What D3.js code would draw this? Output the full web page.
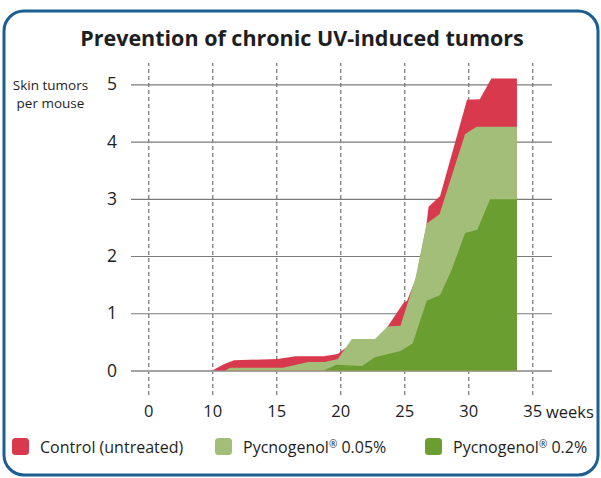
<!DOCTYPE html>
<html>
<head>
<meta charset="utf-8">
<script src="https://cdn.jsdelivr.net/npm/d3@7"></script>
<style>
  body { margin: 0; background: #fff; }
  svg text { font-family: "Open Sans", sans-serif; fill: #1e1e1e; }
</style>
</head>
<body>
<div class="chart"></div>
<script>
// weeks on the x axis (the "0" label sits where week 5 would be)
const xTickValues = [5, 10, 15, 20, 25, 30, 35]
const xTickLabels = ["0", "10", "15", "20", "25", "30", "35"]
const yTickValues = [0, 1, 2, 3, 4, 5]

// Control (untreated)
const controlWeeks  = [10, 10.9, 11.7, 15.1, 16.5, 18.7, 19.8, 20.5, 22.7, 23.7, 25.0, 25.2, 25.9, 26.7, 26.9, 27.8, 29.9, 30.9, 31.8, 33.8]
const controlValues = [0, 0.11, 0.18, 0.20, 0.25, 0.25, 0.29, 0.41, 0.5, 0.77, 1.20, 1.21, 1.6, 2.5, 2.86, 3.05, 4.73, 4.74, 5.10, 5.10]

// Pycnogenol 0.05%
const lowWeeks  = [11.0, 11.4, 15.5, 17.5, 18.8, 19.8, 20.9, 22.7, 23.7, 24.7, 25.3, 25.9, 26.75, 27.75, 29.75, 30.65, 33.8]
const lowValues = [0, 0.05, 0.05, 0.15, 0.15, 0.2, 0.55, 0.55, 0.77, 0.78, 1.2, 1.64, 2.57, 2.73, 4.13, 4.26, 4.26]

// Pycnogenol 0.2%
const highWeeks  = [18.7, 19.7, 21.7, 22.7, 24.7, 25.65, 26.75, 27.8, 28.7, 29.75, 30.7, 31.7, 33.8]
const highValues = [0, 0.1, 0.08, 0.23, 0.34, 0.47, 1.22, 1.32, 1.76, 2.40, 2.46, 2.99, 2.99]

const seriesNames  = ["Control (untreated)", "Pycnogenol", "Pycnogenol"]
const seriesSuffix = ["", " 0.05%", " 0.2%"]
const colors = ["#d8394c", "#a2be79", "#6b9e31"]

const W = 601, H = 478

const svg = d3.select(".chart").append("svg")
    .attr("width", W)
    .attr("height", H)

// frame
svg.append("rect")
    .attr("x", 4).attr("y", 11)
    .attr("width", 594).attr("height", 464)
    .attr("rx", 20)
    .attr("fill", "none")
    .attr("stroke", "#1d5e91")
    .attr("stroke-width", 3)

svg.append("text")
    .attr("x", 302).attr("y", 46)
    .attr("text-anchor", "middle")
    .style("font-weight", "bold")
    .style("font-size", "21.5px")
    .text("Prevention of chronic UV-induced tumors")

const x = d3.scaleLinear().domain([5, 35]).range([148.3, 532.3])
const y = d3.scaleLinear().domain([0, 5]).range([370.5, 84.3])

const gridLeft = 131, gridRight = 552

// vertical dashed lines + week labels
const xAxis = svg.append("g")
    .attr("transform", "translate(0,395)")
    .call(d3.axisBottom(x)
        .tickValues(xTickValues)
        .tickFormat((d, i) => xTickLabels[i])
        .tickSize(-332)
        .tickPadding(10))
xAxis.select(".domain").remove()
xAxis.selectAll("line")
    .attr("stroke", "#555")
    .attr("stroke-dasharray", "4,3")
xAxis.selectAll("text")
    .style("font-size", "16.5px")
    .attr("fill", "#1e1e1e")

svg.append("text")
    .attr("x", 546).attr("y", 418)
    .style("font-size", "16.5px")
    .text("weeks")

// horizontal grid + value labels
const yAxis = svg.append("g")
    .attr("transform", `translate(${gridLeft},0)`)
    .call(d3.axisLeft(y)
        .tickValues(yTickValues)
        .tickFormat(d3.format("d"))
        .tickSize(-(gridRight - gridLeft))
        .tickPadding(14))
yAxis.select(".domain").remove()
yAxis.selectAll("line")
    .attr("stroke", d => d === 0 ? "#a3a3a3" : "#7a7a7a")
    .attr("stroke-width", d => d === 0 ? 2 : 1.2)
yAxis.selectAll("text")
    .style("font-size", "17.5px")
    .attr("fill", "#1e1e1e")

svg.append("text")
    .attr("x", 50.5).attr("y", 90)
    .attr("text-anchor", "middle")
    .style("font-size", "13.5px")
    .text("Skin tumors")
svg.append("text")
    .attr("x", 50.5).attr("y", 108)
    .attr("text-anchor", "middle")
    .style("font-size", "13.5px")
    .text("per mouse")

// areas, drawn back to front (they overlap, not stacked)
const area = d3.area()
    .x(d => x(d[0]))
    .y0(y(0))
    .y1(d => y(d[1]))

const series = [
    d3.zip(controlWeeks, controlValues),
    d3.zip(lowWeeks, lowValues),
    d3.zip(highWeeks, highValues)
]

svg.append("g").selectAll("path")
    .data(series)
    .enter()
    .append("path")
    .attr("d", area)
    .attr("fill", (d, i) => colors[i])

// legend
const legendX = [12, 215, 425]
const legend = svg.append("g").selectAll("g")
    .data(seriesNames)
    .enter()
    .append("g")
    .attr("transform", (d, i) => `translate(${legendX[i]},438)`)

legend.append("rect")
    .attr("width", 17).attr("height", 17)
    .attr("rx", 3.5)
    .attr("fill", (d, i) => colors[i])

const lt = legend.append("text")
    .attr("x", 28).attr("y", 14.5)
    .style("font-size", "16px")
lt.append("tspan").text(d => d)
lt.filter((d, i) => i > 0).append("tspan")
    .attr("dy", -5)
    .style("font-size", "10px")
    .text("®")
lt.filter((d, i) => i > 0).append("tspan")
    .attr("dy", 5)
    .text((d, i) => seriesSuffix[i + 1])
</script>
</body>
</html>
